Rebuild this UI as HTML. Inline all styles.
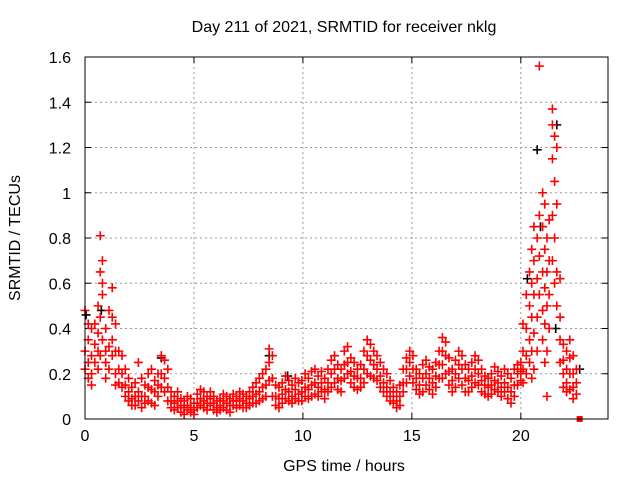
<!DOCTYPE html>
<html><head><meta charset="utf-8"><style>
body{margin:0;background:#fff;}
svg{display:block;font-family:"Liberation Sans",sans-serif;}
</style></head><body>
<svg id="chart" width="640" height="480" viewBox="0 0 640 480" xmlns="http://www.w3.org/2000/svg">
<text x="344" y="32" font-size="16" text-anchor="middle">Day 211 of 2021, SRMTID for receiver nklg</text>
<text transform="translate(20,238) rotate(-90)" font-size="16" text-anchor="middle">SRMTID / TECUs</text>
<text x="344" y="471" font-size="16" text-anchor="middle">GPS time / hours</text>
<g id="grid"></g>
<g id="ticks"></g>
<g id="black"></g>
<g id="red"></g>
<rect x="85" y="57" width="523" height="362" fill="none" stroke="#000" stroke-width="1"/>
</svg>
<script>
const xTicks=[0,5,10,15,20];
const yTicks=[0,0.2,0.4,0.6,0.8,1,1.2,1.4,1.6];
const yTickLabels=["0","0.2","0.4","0.6","0.8","1","1.2","1.4","1.6"];
const redRows=[
[0.0,.30,.48,.22],[0.15,.35,.25,.42,.18],[0.3,.40,.28,.20,.15],[0.45,.42,.33,.25],[0.6,.50,.38,.30,.22],
[0.7,.81,.65,.45,.28],[0.8,.70,.60,.55,.35],[0.95,.40,.30,.25,.18],[1.1,.48,.32,.22],[1.25,.58,.45,.35,.28],
[1.4,.42,.30,.20,.15],[1.55,.30,.22,.16],[1.7,.28,.20,.14],[1.85,.22,.15,.10],[2.0,.18,.12,.08],
[2.15,.14,.09,.06],[2.3,.16,.10,.06],[2.45,.25,.12,.08],[2.6,.18,.10,.05],[2.75,.15,.10,.07],
[2.9,.20,.14,.08],[3.05,.22,.13,.07],[3.2,.17,.12,.06],[3.35,.20,.15,.10],[3.5,.28,.20,.14],
[3.65,.26,.18,.12],[3.8,.22,.14,.08],[3.95,.12,.08,.05],[4.1,.10,.07,.04],[4.25,.12,.08,.05],
[4.4,.09,.06,.03],[4.55,.08,.05,.02],[4.7,.10,.06,.04],[4.85,.09,.05,.03],[5.0,.07,.04,.02],
[5.15,.11,.07,.05],[5.3,.13,.09,.06],[5.45,.12,.08,.05],[5.6,.10,.07,.04],[5.75,.12,.09,.06],
[5.9,.10,.07,.04],[6.05,.08,.05,.03],[6.2,.09,.06,.04],[6.35,.11,.08,.05],[6.5,.10,.07,.04],
[6.65,.09,.06,.03],[6.8,.11,.08,.06],[6.95,.10,.08,.05],[7.1,.12,.09,.06],[7.25,.11,.08,.05],
[7.4,.10,.07,.05],[7.55,.12,.09,.06],[7.7,.14,.10,.07],[7.85,.16,.11,.07],[8.0,.18,.12,.08],
[8.15,.20,.14,.09],[8.3,.22,.15,.10],[8.45,.31,.25,.17],[8.6,.28,.18,.10],[8.75,.15,.10,.06],
[8.9,.14,.09,.05],[9.05,.16,.11,.07],[9.2,.19,.13,.09],[9.35,.17,.12,.08],[9.5,.15,.10,.07],
[9.65,.18,.13,.09],[9.8,.16,.11,.08],[9.95,.17,.12,.08],[10.1,.20,.14,.10],[10.25,.18,.13,.09],
[10.4,.21,.15,.10],[10.55,.22,.16,.11],[10.7,.19,.14,.10],[10.85,.21,.16,.12],[11.0,.18,.13,.09],
[11.15,.22,.16,.12],[11.3,.26,.20,.14],[11.45,.28,.22,.16],[11.6,.24,.18,.13],[11.75,.22,.17,.12],
[11.9,.30,.24,.18],[12.05,.32,.25,.20],[12.2,.27,.21,.16],[12.35,.25,.19,.14],[12.5,.22,.18,.13],
[12.65,.24,.18,.14],[12.8,.30,.22,.16],[12.95,.35,.28,.20],[13.1,.33,.26,.19],[13.25,.30,.24,.18],
[13.4,.28,.22,.17],[13.55,.25,.19,.14],[13.7,.22,.16,.12],[13.85,.20,.14,.10],[14.0,.17,.12,.08],
[14.15,.14,.10,.07],[14.3,.12,.08,.05],[14.45,.15,.10,.06],[14.6,.22,.16,.12],[14.75,.27,.22,.16],
[14.9,.30,.25,.19],[15.05,.28,.22,.16],[15.2,.22,.18,.13],[15.35,.20,.15,.11],[15.5,.24,.18,.12],
[15.65,.26,.20,.15],[15.8,.23,.18,.13],[15.95,.22,.16,.11],[16.1,.25,.19,.14],[16.25,.30,.24,.18],
[16.4,.36,.30,.24,.18],[16.55,.34,.28,.20],[16.7,.27,.21,.15],[16.85,.22,.17,.12],[17.0,.26,.20,.14],
[17.15,.30,.24,.18],[17.3,.28,.22,.15],[17.45,.24,.18,.12],[17.6,.22,.17,.12],[17.75,.25,.19,.14],
[17.9,.28,.22,.16],[18.05,.26,.20,.15],[18.2,.22,.17,.12],[18.35,.19,.15,.11],[18.5,.18,.14,.10],
[18.65,.20,.15,.11],[18.8,.23,.17,.13],[18.95,.21,.16,.12],[19.1,.19,.14,.10],[19.25,.22,.16,.12],
[19.4,.20,.14,.09],[19.55,.18,.12,.07],[19.7,.22,.15,.10],[19.85,.24,.20,.15],[20.0,.25,.21,.17],
[20.1,.42,.30,.22,.16],[20.25,.55,.40,.28,.20],[20.4,.65,.50,.35,.25],[20.5,.75,.60,.45,.30,.18],
[20.6,.85,.70,.55,.38,.22],[20.75,.80,.62,.45,.30],[20.85,1.56,.90,.72,.55],[21.0,1.00,.85,.65,.48,.35],
[21.1,.95,.75,.58,.42,.25],[21.2,.80,.65,.50,.30,.10],[21.3,.88,.70,.55,.40],[21.45,1.37,1.30,1.15,.90,.70],
[21.55,1.25,1.05,.80,.60],[21.65,1.20,.95,.65,.50],[21.8,.62,.45,.35,.25],[21.95,.33,.26,.20,.14],
[22.1,.30,.22,.16,.12],[22.25,.35,.27,.20,.13],[22.4,.28,.20,.14,.09],[22.55,.22,.16,.11]
];
const blackTimes=[0.05,0.75,3.5,8.45,9.3,20.3,20.75,20.9,21.65,21.6,22.7];
const blackValues=[0.46,0.48,0.27,0.28,0.19,0.62,1.19,0.85,1.30,0.40,0.22];
const squareTime=22.7, squareValue=0;

const NS="http://www.w3.org/2000/svg";
const X0=85,X1=608,Y0=419,Y1=57,XMAX=24,YMAX=1.6;
function xs(t){return X0+(X1-X0)*t/XMAX;}
function ys(v){return Y0-(Y0-Y1)*v/YMAX;}
function mk(tag,attrs,parent){const e=document.createElementNS(NS,tag);for(const k in attrs)e.setAttribute(k,attrs[k]);parent.appendChild(e);return e;}
const grid=document.getElementById('grid'),ticks=document.getElementById('ticks');
xTicks.forEach((t,i)=>{
  const x=xs(t);
  if(t>0){const g=mk('line',{x1:x,x2:x,y1:Y1,y2:Y0,stroke:'#999','stroke-dasharray':'2,3'},grid);
  
  }
  mk('line',{x1:x,x2:x,y1:Y0,y2:Y0-6,stroke:'#000'},ticks);
  mk('line',{x1:x,x2:x,y1:Y1,y2:Y1+6,stroke:'#000'},ticks);
  const l=mk('text',{x:x,y:Y0+22,'font-size':16,'text-anchor':'middle'},ticks);
  l.textContent=String(t);
  
  
});
yTicks.forEach((v,i)=>{
  const y=ys(v);
  if(v>0&&v<YMAX){const g=mk('line',{x1:X0,x2:X1,y1:y,y2:y,stroke:'#999','stroke-dasharray':'2,3'},grid);
  
  }
  mk('line',{x1:X0,x2:X0+6,y1:y,y2:y,stroke:'#000'},ticks);
  mk('line',{x1:X1,x2:X1-6,y1:y,y2:y,stroke:'#000'},ticks);
  const l=mk('text',{x:X0-14,y:y+6,'font-size':16,'text-anchor':'end'},ticks);
  l.textContent=yTickLabels[i];
  
  
});
function cross(parent,t,v,color,name){
  const x=xs(t),y=ys(v);
  const p=mk('path',{d:`M${x-4.5},${y}h9M${x},${y-4.5}v9`,stroke:color,'stroke-width':1.6,fill:'none'},parent);
  
  
}
const black=document.getElementById('black'),red=document.getElementById('red');
blackTimes.forEach((t,i)=>cross(black,t,blackValues[i],'#000','black-point'));
redRows.forEach(r=>{for(let j=1;j<r.length;j++)cross(red,r[0],r[j],'#f00','red-point');});
const sq=mk('rect',{x:xs(squareTime)-3,y:ys(squareValue)-3,width:6,height:6,fill:'#f00'},red);


</script>
</body></html>
